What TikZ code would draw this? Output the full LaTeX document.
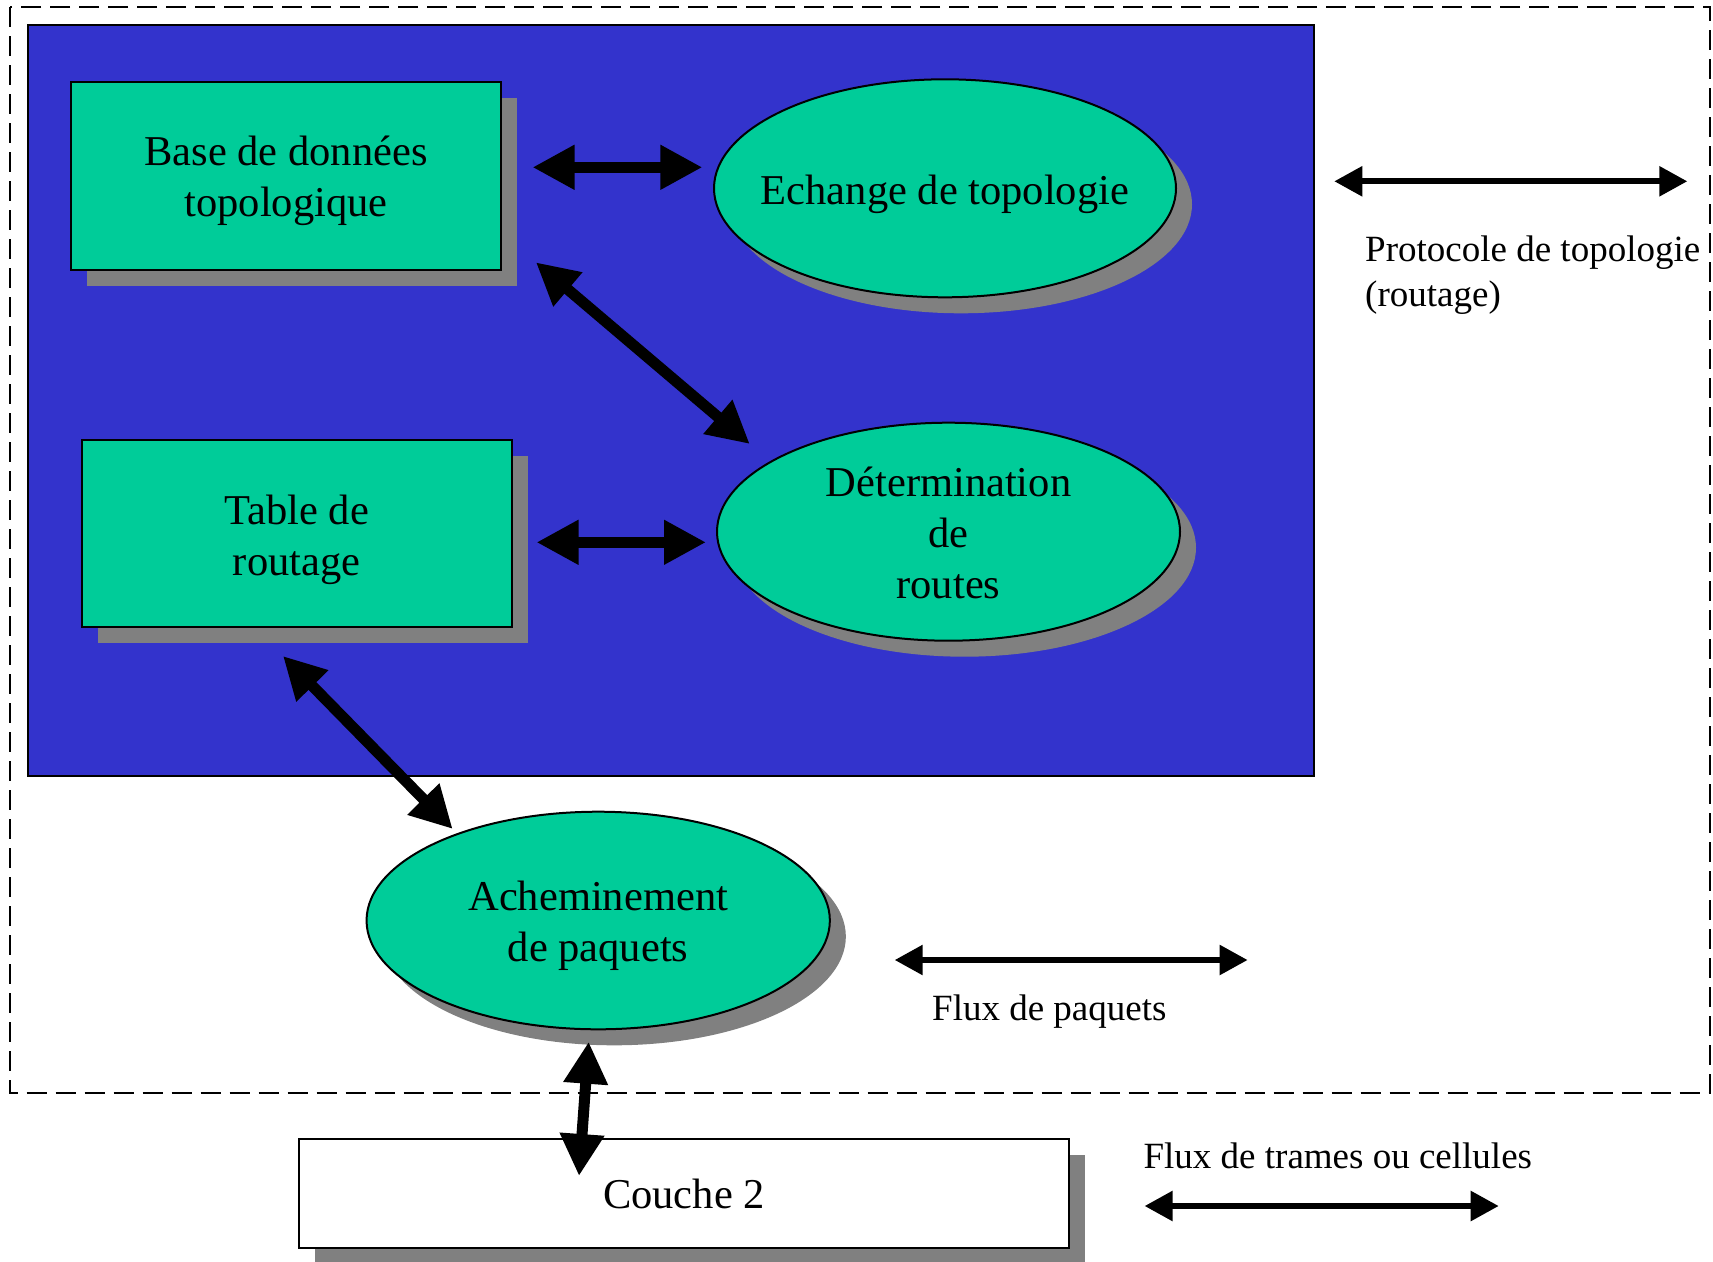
\documentclass[tikz,border=0pt]{standalone}
\usepackage{fontspec}
\setmainfont{Liberation Serif}
\usetikzlibrary{arrows.meta,shapes.geometric,shadows}
\definecolor{panelblue}{HTML}{3333CC}
\definecolor{procgreen}{HTML}{00CC99}
\definecolor{shadowgray}{HTML}{808080}
\begin{document}
\begin{tikzpicture}[x=1pt,y=-1pt,
  castshadow/.style={drop shadow={shadow xshift=16pt,shadow yshift=-16pt,opacity=1,fill=shadowgray}},
  greenbox/.style={rectangle,draw=black,line width=2pt,fill=procgreen,inner sep=0pt,castshadow},
  greenoval/.style={ellipse,draw=black,line width=2pt,fill=procgreen,inner sep=0pt,castshadow},
  whitebox/.style={rectangle,draw=black,line width=2pt,fill=white,inner sep=0pt,castshadow},
  bigtxt/.style={font=\fontsize{42.5}{51}\selectfont,inner sep=0pt,anchor=base},
  smalltxt/.style={font=\fontsize{37}{45}\selectfont,inner sep=0pt,anchor=base west},
  bigarrow/.style={line width=11pt,
    {Triangle[length=42pt 0,width=42pt 0]}-{Triangle[length=42pt 0,width=42pt 0]}},
  thinarrow/.style={line width=5.7pt,
    {Triangle[length=28pt 0,width=29pt 0]}-{Triangle[length=28pt 0,width=29pt 0]}},
]
\useasboundingbox (0,0) rectangle (1713,1261);

% network layer frame and routing panel
\draw[line width=2pt,dash pattern=on 20pt off 9pt] (10.3,7.3) rectangle (1709.5,1093);
\draw[line width=2pt,fill=panelblue] (27.5,25) rectangle (1314,776);

% functional blocks
\node[greenbox,minimum width=430.5pt,minimum height=187.7pt] (base) at (286,176.2) {};
\node[greenbox,minimum width=430.2pt,minimum height=186.7pt] (table) at (296.6,533.3) {};
\node[greenoval,minimum width=462pt,minimum height=218pt] (echange) at (945,188.3) {};
\node[greenoval,minimum width=463pt,minimum height=218pt] (determ) at (948.5,531.7) {};
\node[greenoval,minimum width=463.3pt,minimum height=217.6pt] (achem) at (598.2,920.5) {};
\node[whitebox,minimum width=770.2pt,minimum height=108.4pt] (couche) at (683.9,1193.5) {};

% block captions
\node[bigtxt] (base-t) at (286,165.7) {\begin{tabular}[t]{@{}c@{}}Base de données\\topologique\end{tabular}};
\node[bigtxt] (table-t) at (296.6,524) {\begin{tabular}[t]{@{}c@{}}Table de\\routage\end{tabular}};
\node[bigtxt] (echange-t) at (945,204) {Echange de topologie};
\node[bigtxt] (determ-t) at (948.5,496.7) {\begin{tabular}[t]{@{}c@{}}Détermination\\de\\routes\end{tabular}};
\node[bigtxt] (achem-t) at (598.2,910.7) {\begin{tabular}[t]{@{}c@{}}Acheminement\\de paquets\end{tabular}};
\node[bigtxt] (couche-t) at (683.9,1208.3) {Couche 2};

% arrow end points between the blocks
\coordinate (be1) at (532.5,167.3);  \coordinate (be2) at (702.4,167.3);
\coordinate (bd1) at (535.9,262.3);  \coordinate (bd2) at (749.8,444);
\coordinate (td1) at (536.5,542.3);  \coordinate (td2) at (706,542.3);
\coordinate (ta1) at (283,656);      \coordinate (ta2) at (452.7,829);
\coordinate (ac1) at (588.7,1041.7); \coordinate (ac2) at (579,1176);

\draw[bigarrow] (be1) -- (be2);
\draw[bigarrow] (bd1) -- (bd2);
\draw[bigarrow] (td1) -- (td2);
\draw[bigarrow] (ta1) -- (ta2);
\draw[bigarrow] (ac1) -- (ac2);

% legend of flows
\coordinate (pt1) at (1334.3,181.3); \coordinate (pt2) at (1687.3,181.3);
\coordinate (fp1) at (894.7,960);    \coordinate (fp2) at (1247.6,960);
\coordinate (ft1) at (1144.6,1206);  \coordinate (ft2) at (1498.7,1206);
\draw[thinarrow] (pt1) -- (pt2);
\draw[thinarrow] (fp1) -- (fp2);
\draw[thinarrow] (ft1) -- (ft2);

\node[smalltxt] (proto-t) at (1365,261) {\begin{tabular}[t]{@{}l@{}}Protocole de topologie\\(routage)\end{tabular}};
\node[smalltxt] (fluxp-t) at (932,1020) {Flux de paquets};
\node[smalltxt] (fluxt-t) at (1143.4,1168.3) {Flux de trames ou cellules};
\end{tikzpicture}
\end{document}
